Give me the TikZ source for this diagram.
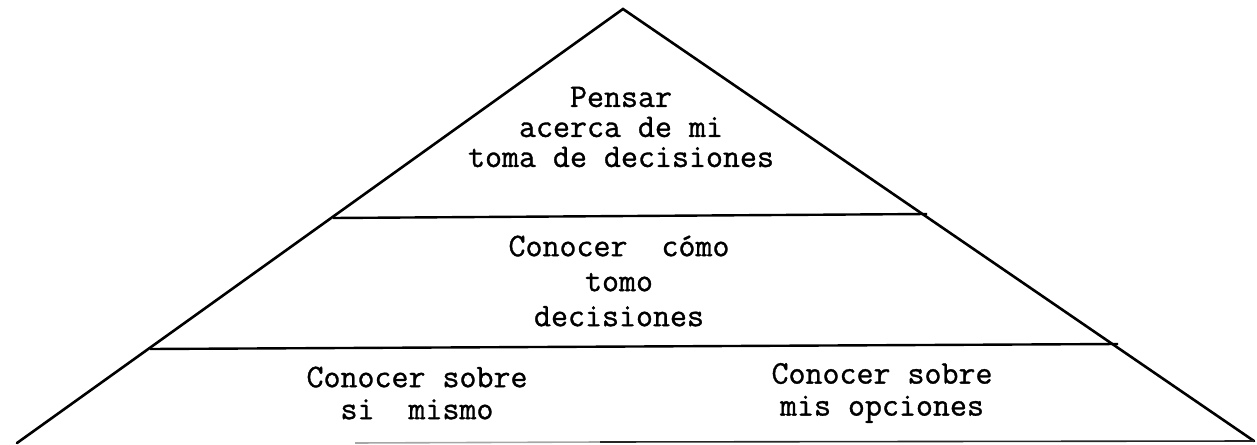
\documentclass[tikz,border=0pt]{standalone}
\usepackage{fontspec}
\usepackage{tikz}
\usetikzlibrary{positioning,calc}
\newfontfamily\levelfont[FakeBold=1]{Latin Modern Mono}
\tikzset{
    edge/.style={draw, black, line width=1.3pt, line cap=round},
    divider/.style={draw, black, line width=1.2pt},
    baseline/.style={draw, line width=0.8pt},
    level/.style={align=center, inner sep=0pt, text=black}
}

\begin{document}
\begin{tikzpicture}[x=0.5pt, y=-0.5pt]
        \useasboundingbox (0,0) rectangle (1257,444);

        % Triangle corners
        \coordinate (apex) at (623,9);
        \coordinate (bl) at (17,443);
        \coordinate (br) at (1254,441);

        % Sides
        \draw[edge] (bl) -- (apex) -- (br);

        % Dividers
        \coordinate (d1l) at (333,218);
        \coordinate (d1r) at (927,214);
        \coordinate (d2l) at (150,349);
        \coordinate (d2r) at (1118,344);
        \draw[divider] (d1l) -- (d1r);
        \draw[divider] (d2l) -- (d2r);

        % Bottom edge (faint on the left)
        \coordinate (b0) at (355,443);
        \coordinate (b1) at (600,442);
        \draw[baseline, black!35] (b0) -- (b1);
        \draw[baseline, black!85] (b1) -- (br);

        % Levels
        \node[level, font=\levelfont\fontsize{16.5}{15}\selectfont] (top) at (621,127)
            {Pensar\\acerca de mi\\toma de decisiones};
        \node[level, font=\levelfont\fontsize{16.5}{17.5}\selectfont] (mid) at (619,281)
            {Conocer\ \ cómo\\tomo\\decisiones};
        \node[level, font=\levelfont\fontsize{16.5}{16}\selectfont] (self) at (417,393)
            {Conocer sobre\\si\ \ mismo};
        \node[level, font=\levelfont\fontsize{16.5}{16}\selectfont] (opts) at (882,393)
            {Conocer sobre\\mis opciones};
    \end{tikzpicture}
\end{document}
